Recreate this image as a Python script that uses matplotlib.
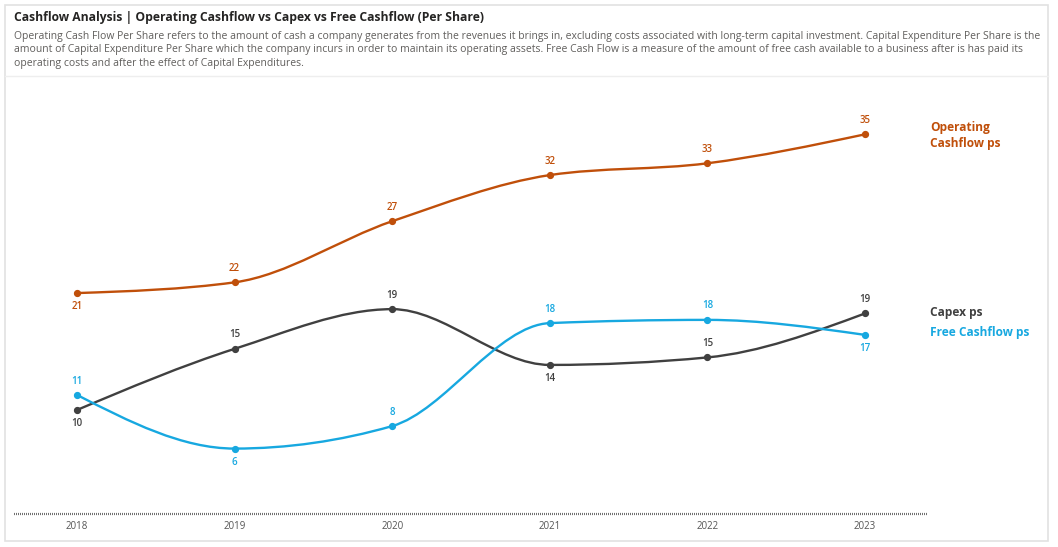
import numpy as np
import matplotlib.pyplot as plt
from matplotlib.path import Path
from matplotlib.patches import PathPatch, Rectangle
from matplotlib.lines import Line2D

# data
years = ["2018", "2019", "2020", "2021", "2022", "2023"]
operating = [20.6, 21.6, 27.3, 31.6, 32.7, 35.4]
capex = [9.7, 15.4, 19.1, 13.9, 14.6, 18.7]
free_cf = [11.1, 6.1, 8.2, 17.8, 18.1, 16.7]

# label above (+1) or below (-1) the point
op_pos = [-1, 1, 1, 1, 1, 1]
capex_pos = [-1, 1, 1, -1, 1, 1]
fcf_pos = [1, -1, 1, 1, 1, -1]

c_op = "#C04F0A"
c_capex = "#404040"
c_fcf = "#17A8E0"

W, H = 1058, 547
plt.rcParams['lines.scale_dashes'] = False
fig = plt.figure(figsize=(W / 100, H / 100), dpi=100)
plt.rcParams['font.family'] = ['Open Sans', 'DejaVu Sans']


def px(x, y):
    return x / W, 1 - y / H


# card + header
fig.patches.append(Rectangle(px(5, 541), 1043 / W, 536 / H, transform=fig.transFigure,
                             facecolor="white", edgecolor="#e2e2e2", lw=1.2, zorder=-5))
fig.add_artist(Line2D([5 / W, 1048 / W], [1 - 76 / H] * 2, color="#eeeeee", lw=1, zorder=-4))
fig.text(*px(14, 17), "Cashflow Analysis | Operating Cashflow vs Capex vs Free Cashflow (Per Share)",
         fontsize=8.7, fontweight="bold", color="#252423", va="center")
desc = ("Operating Cash Flow Per Share refers to the amount of cash a company generates from the revenues it brings in, "
        "excluding costs associated with long-term capital investment. Capital Expenditure Per Share is the\n"
        "amount of Capital Expenditure Per Share which the company incurs in order to maintain its operating assets. "
        "Free Cash Flow is a measure of the amount of free cash available to a business after is has paid its\n"
        "operating costs and after the effect of Capital Expenditures.")
fig.text(*px(14, 31), desc, fontsize=7.45, color="#605E5C", va="top", linespacing=1.3)

ax = fig.add_axes([14 / W, 1 - 514 / H, (928 - 14) / W, (514 - 85) / H])
ax.set_xlim(-0.4, 5.4)
ax.set_ylim(0, 40)
ax.patch.set_alpha(0)
for s in ["top", "right", "left", "bottom"]:
    ax.spines[s].set_visible(False)
ax.axhline(0, color="#707070", lw=1.6, dashes=(0.72, 0.72), clip_on=False)
ax.set_yticks([])
ax.set_xticks(range(len(years)))
ax.set_xticklabels(years, fontsize=7, color="#555555")
ax.tick_params(axis="x", length=0, pad=5)


def monotone_path(xs, ys):
    # d3 curveMonotoneX style bezier segments
    xs = np.asarray(xs, float)
    ys = np.asarray(ys, float)
    n = len(xs)
    h = np.diff(xs)
    s = np.diff(ys) / h
    t = np.zeros(n)
    for i in range(1, n - 1):
        p = (s[i - 1] * h[i] + s[i] * h[i - 1]) / (h[i - 1] + h[i])
        t[i] = (np.sign(s[i - 1]) + np.sign(s[i])) * min(abs(s[i - 1]), abs(s[i]), 0.5 * abs(p))
    t[0] = (3 * s[0] - t[1]) / 2
    t[-1] = (3 * s[-1] - t[-2]) / 2
    verts = [(xs[0], ys[0])]
    codes = [Path.MOVETO]
    for i in range(n - 1):
        dx = (xs[i + 1] - xs[i]) / 3
        verts += [(xs[i] + dx, ys[i] + dx * t[i]),
                  (xs[i + 1] - dx, ys[i + 1] - dx * t[i + 1]),
                  (xs[i + 1], ys[i + 1])]
        codes += [Path.CURVE4] * 3
    return Path(verts, codes)


x = np.arange(len(years))
for vals, pos, col in [(operating, op_pos, c_op), (capex, capex_pos, c_capex), (free_cf, fcf_pos, c_fcf)]:
    ax.add_patch(PathPatch(monotone_path(x, vals), facecolor="none", edgecolor=col, lw=1.7))
    ax.plot(x, vals, "o", color=col, ms=4.2, zorder=3)
    for xi, v, p in zip(x, vals, pos):
        ax.annotate(f"{v:.0f}", (xi, v), xytext=(0, 10 * p), textcoords="offset points",
                    ha="center", va="center", fontsize=7, fontweight="semibold", color=col)

# end labels
ax.annotate("Operating\nCashflow ps", (5, operating[-1]), xytext=(47, -1), textcoords="offset points",
            ha="left", va="center", fontsize=8.6, fontweight="bold", color=c_op, annotation_clip=False,
            linespacing=1.25)
ax.annotate("Capex ps", (5, capex[-1]), xytext=(47, 0.5), textcoords="offset points",
            ha="left", va="center", fontsize=8.6, fontweight="bold", color=c_capex, annotation_clip=False)
ax.annotate("Free Cashflow ps", (5, free_cf[-1]), xytext=(47, 1.5), textcoords="offset points",
            ha="left", va="center", fontsize=8.6, fontweight="bold", color=c_fcf, annotation_clip=False)

fig.savefig("out.png", dpi=100)
